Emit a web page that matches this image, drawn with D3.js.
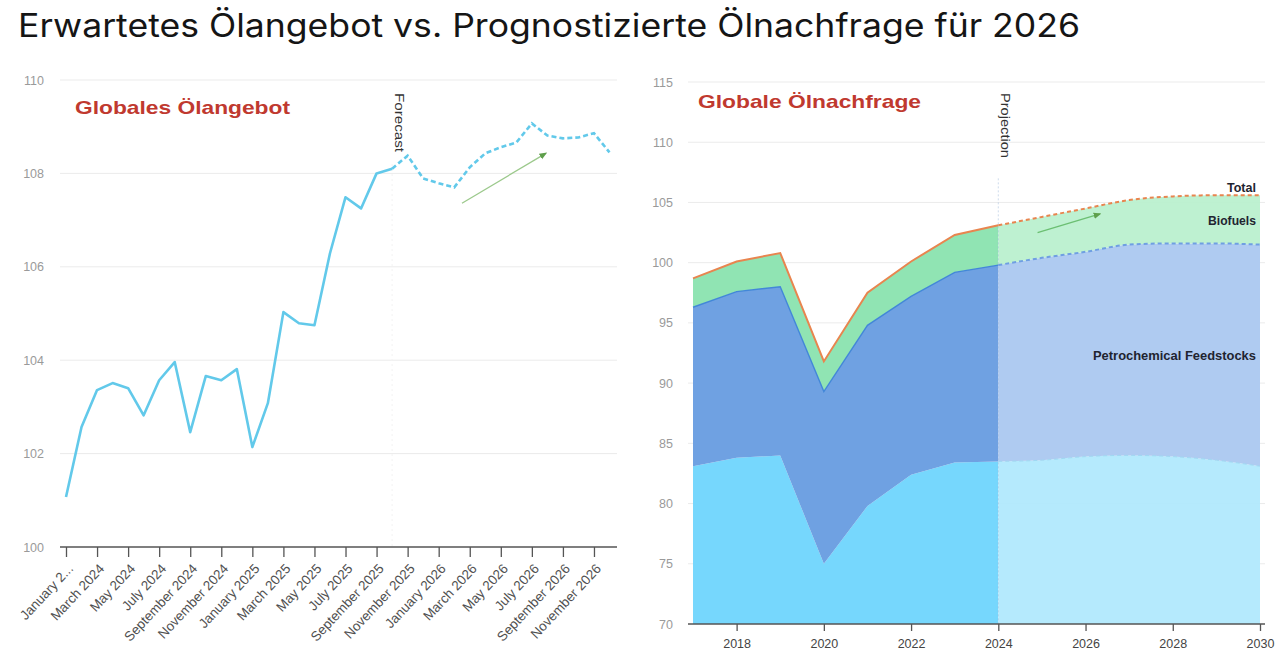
<!DOCTYPE html>
<html>
<head>
<meta charset="utf-8">
<script src="https://cdn.jsdelivr.net/npm/d3@7"></script>
<style>
body { margin: 0; background: #fff; }
svg { display: block; }
text { font-family: "Liberation Sans", Arial, sans-serif; }
</style>
</head>
<body>
<svg id="chart" width="1280" height="661"></svg>
<script>
// ---- left panel: global oil supply, monthly (mb/d) ----
var months = [
    "January 2...", "February 2024", "March 2024", "April 2024", "May 2024", "June 2024",
    "July 2024", "August 2024", "September 2024", "October 2024", "November 2024", "December 2024",
    "January 2025", "February 2025", "March 2025", "April 2025", "May 2025", "June 2025",
    "July 2025", "August 2025", "September 2025", "October 2025", "November 2025", "December 2025",
    "January 2026", "February 2026", "March 2026", "April 2026", "May 2026", "June 2026",
    "July 2026", "August 2026", "September 2026", "October 2026", "November 2026", "December 2026"
];
var supply = [
    101.07, 102.57, 103.36, 103.51, 103.40, 102.82, 103.57, 103.96, 102.46, 103.66, 103.57, 103.81,
    102.14, 103.08, 105.03, 104.79, 104.75, 106.29, 107.49, 107.25, 108.00, 108.10, 108.38, 107.89,
    107.79, 107.70, 108.13, 108.43, 108.56, 108.66, 109.07, 108.81, 108.75, 108.77, 108.86, 108.45
];
var forecastFrom = 21;            // October 2025, line turns dashed
var supplyTicks = [100, 102, 104, 106, 108, 110];

// ---- right panel: global oil demand by use, yearly (mb/d) ----
var years = [2017, 2018, 2019, 2020, 2021, 2022, 2023, 2024, 2025, 2026, 2027, 2028, 2029, 2030];
var otherUses = [83.1, 83.8, 84.0, 75.0, 79.8, 82.4, 83.4, 83.5, 83.6, 83.9, 84.0, 83.9, 83.6, 83.1];
var petrochem = [13.2, 13.8, 14.0, 14.3, 15.0, 14.8, 15.8, 16.3, 16.8, 17.0, 17.5, 17.7, 18.0, 18.4];
var biofuels = [2.4, 2.5, 2.8, 2.5, 2.7, 2.9, 3.1, 3.3, 3.4, 3.6, 3.7, 3.9, 4.0, 4.1];
var projectionFrom = 2024;
var demandTicks = [70, 75, 80, 85, 90, 95, 100, 105, 110, 115];
var yearTicks = [2018, 2020, 2022, 2024, 2026, 2028, 2030];

// ============================================================================

var svg = d3.select("#chart");

function fit(sel, len) {
    sel.attr("textLength", len).attr("lengthAdjust", "spacingAndGlyphs");
}

var defs = svg.append("defs");
defs.append("marker")
    .attr("id", "arrowhead")
    .attr("viewBox", "0 0 10 10")
    .attr("refX", 8).attr("refY", 5)
    .attr("markerWidth", 6).attr("markerHeight", 6)
    .attr("orient", "auto")
    .append("path")
    .attr("d", "M0,1 L10,5 L0,9 Z")
    .attr("fill", "#5f9f4c");

svg.append("text")
    .attr("x", 18).attr("y", 37)
    .style("font-family", "Inter, Lato, sans-serif")
    .style("font-size", "32px")
    .attr("fill", "#151515")
    .text("Erwartetes Ölangebot vs. Prognostizierte Ölnachfrage für 2026")
    .call(fit, 1062);

// ---------------------------------------------------------------------------
// left chart

var xL = d3.scaleLinear().domain([0, months.length - 1]).range([66, 609.5]);
var yL = d3.scaleLinear().domain([100, 110]).range([547, 80]);
var left = svg.append("g");

left.selectAll("line.grid")
    .data(supplyTicks.slice(1))
    .enter().append("line")
    .attr("class", "grid")
    .attr("x1", 60).attr("x2", 617)
    .attr("y1", (d) => yL(d)).attr("y2", (d) => yL(d))
    .attr("stroke", "#ebebeb");

left.append("line")
    .attr("x1", xL(forecastFrom)).attr("x2", xL(forecastFrom))
    .attr("y1", yL(108.2)).attr("y2", yL(100))
    .attr("stroke", "#f2f2f2").attr("stroke-dasharray", "2,3");

var yAxisL = left.append("g")
    .attr("transform", "translate(50,0)")
    .call(d3.axisLeft(yL).tickValues(supplyTicks).tickSize(0).tickPadding(6));
yAxisL.select(".domain").remove();
yAxisL.selectAll("text").attr("fill", "#9a9a9a").style("font-size", "12.5px");

var xAxisL = left.append("g")
    .attr("transform", "translate(0," + yL(100) + ")")
    .call(d3.axisBottom(xL)
        .tickValues(d3.range(0, months.length, 2))
        .tickFormat((i) => months[i])
        .tickSize(10));
xAxisL.select(".domain").remove();
xAxisL.selectAll(".tick line").attr("stroke", "#555").attr("stroke-width", 1.3);
xAxisL.selectAll("text")
    .attr("x", 0).attr("y", 0).attr("dy", "0.35em")
    .attr("text-anchor", "end")
    .attr("transform", "translate(4,19) rotate(-47)")
    .attr("fill", "#505050")
    .style("font-size", "13.5px");
left.append("line")
    .attr("x1", 60).attr("x2", 617)
    .attr("y1", yL(100)).attr("y2", yL(100))
    .attr("stroke", "#555").attr("stroke-width", 1.5);

var lineL = d3.line().x((d) => xL(d.i)).y((d) => yL(d.v));
var pts = supply.map((v, i) => ({ i: i, v: v }));
left.append("path")
    .datum(pts.slice(0, forecastFrom + 1))
    .attr("d", lineL)
    .attr("fill", "none").attr("stroke", "#62c9ea").attr("stroke-width", 2.6)
    .attr("stroke-linejoin", "round");
left.append("path")
    .datum(pts.slice(forecastFrom))
    .attr("d", lineL)
    .attr("fill", "none").attr("stroke", "#62c9ea").attr("stroke-width", 2.6)
    .attr("stroke-dasharray", "5,3");

left.append("line")
    .attr("x1", xL(25.5)).attr("y1", yL(107.36))
    .attr("x2", xL(30.9)).attr("y2", yL(108.43))
    .attr("stroke", "#9cc98c").attr("stroke-width", 1.3)
    .attr("marker-end", "url(#arrowhead)");

left.append("text")
    .attr("transform", "translate(" + (xL(forecastFrom) + 3) + ",93) rotate(90)")
    .attr("fill", "#333").style("font-size", "12px")
    .text("Forecast").call(fit, 59);

left.append("text")
    .attr("x", 75).attr("y", 114)
    .attr("fill", "#c0392f").style("font-size", "19px").style("font-weight", "bold")
    .text("Globales Ölangebot").call(fit, 215);

// ---------------------------------------------------------------------------
// right chart

var xR = d3.scaleLinear().domain([2017, 2030]).range([693, 1260]);
var yR = d3.scaleLinear().domain([70, 115]).range([624, 82]);
var right = svg.append("g");

right.selectAll("line.grid")
    .data(demandTicks.slice(1))
    .enter().append("line")
    .attr("class", "grid")
    .attr("x1", 688).attr("x2", 1265)
    .attr("y1", (d) => yR(d)).attr("y2", (d) => yR(d))
    .attr("stroke", "#ebebeb");

var table = years.map((y, i) => ({
    year: y, other: otherUses[i], petro: petrochem[i], bio: biofuels[i]
}));
var layers = d3.stack().keys(["other", "petro", "bio"])(table);

var histCol = { other: "#76d7fd", petro: "#6fa1e2", bio: "#90e4b3" };
var projCol = { other: "#b1e9fd", petro: "#abc8f0", bio: "#bbf0cf" };

function part(layer, hist) {
    return layer.filter((d) => hist ? d.data.year <= projectionFrom : d.data.year >= projectionFrom);
}

var areaH = d3.area()
    .x((d) => xR(d.data.year))
    .y0((d) => yR(Math.max(d[0], 70)))
    .y1((d) => yR(d[1]));
var areaP = d3.area()
    .curve(d3.curveMonotoneX)
    .x((d) => xR(d.data.year))
    .y0((d) => yR(Math.max(d[0], 70)))
    .y1((d) => yR(d[1]));
var topH = d3.line().x((d) => xR(d.data.year)).y((d) => yR(d[1]));
var topP = d3.line().curve(d3.curveMonotoneX).x((d) => xR(d.data.year)).y((d) => yR(d[1]));

layers.forEach(function (layer) {
    right.append("path")
        .datum(part(layer, true))
        .attr("d", areaH)
        .attr("fill", histCol[layer.key]);
    right.append("path")
        .datum(part(layer, false))
        .attr("d", areaP)
        .attr("fill", projCol[layer.key]).attr("fill-opacity", 0.95);
});

var edge = { other: "#8fd6f6", petro: "#4287d8", bio: "#e8854f" };
var edgeP = { other: "#9fd8f2", petro: "#6f9fe2", bio: "#e8854f" };
layers.forEach(function (layer) {
    if (layer.key != "other") {
        right.append("path")
            .datum(part(layer, true))
            .attr("d", topH)
            .attr("fill", "none").attr("stroke", edge[layer.key])
            .attr("stroke-width", layer.key == "bio" ? 2 : 1.4);
    }
    right.append("path")
        .datum(part(layer, false))
        .attr("d", topP)
        .attr("fill", "none").attr("stroke", edgeP[layer.key])
        .attr("stroke-width", layer.key == "other" ? 1 : 2)
        .attr("stroke-dasharray", "4,3");
});

right.append("line")
    .attr("x1", xR(projectionFrom)).attr("x2", xR(projectionFrom))
    .attr("y1", yR(107)).attr("y2", yR(70))
    .attr("stroke", "#94b2d8").attr("stroke-opacity", 0.45)
    .attr("stroke-dasharray", "2,2");

var yAxisR = right.append("g")
    .attr("transform", "translate(680,0)")
    .call(d3.axisLeft(yR).tickValues(demandTicks).tickSize(0).tickPadding(7));
yAxisR.select(".domain").remove();
yAxisR.selectAll("text").attr("fill", "#9a9a9a").style("font-size", "12.5px");

var xAxisR = right.append("g")
    .attr("transform", "translate(0," + yR(70) + ")")
    .call(d3.axisBottom(xR).tickValues(yearTicks).tickFormat(d3.format("d")).tickSize(7).tickPadding(8));
xAxisR.select(".domain").remove();
xAxisR.selectAll(".tick line").attr("stroke", "#555").attr("stroke-width", 1.3);
xAxisR.selectAll("text").attr("fill", "#444").style("font-size", "12.5px");
right.append("line")
    .attr("x1", 688).attr("x2", 1265)
    .attr("y1", yR(70)).attr("y2", yR(70))
    .attr("stroke", "#555").attr("stroke-width", 1.5);

right.append("line")
    .attr("x1", xR(2024.9)).attr("y1", yR(102.5))
    .attr("x2", xR(2026.33)).attr("y2", yR(104.05))
    .attr("stroke", "#6bbf72").attr("stroke-width", 1.3)
    .attr("marker-end", "url(#arrowhead)");

var n = years.length - 1;
var totalLast = otherUses[n] + petrochem[n] + biofuels[n];
var petroLast = otherUses[n] + petrochem[n];
var labels = [
    { t: "Total", v: totalLast, dy: -3, w: 29 },
    { t: "Biofuels", v: (totalLast + petroLast) / 2, dy: 5, w: 48 },
    { t: "Petrochemical Feedstocks", v: (petroLast + otherUses[n]) / 2, dy: 5, w: 163 }
];
right.selectAll("text.lab")
    .data(labels)
    .enter().append("text")
    .attr("class", "lab")
    .attr("x", xR(2030) - 4)
    .attr("y", (d) => yR(d.v) + d.dy)
    .attr("text-anchor", "end")
    .attr("fill", "#1f2430").style("font-size", "13px").style("font-weight", "bold")
    .text((d) => d.t)
    .each(function (d) { fit(d3.select(this), d.w); });

right.append("text")
    .attr("transform", "translate(" + (xR(projectionFrom) + 3) + ",93) rotate(90)")
    .attr("fill", "#333").style("font-size", "12px")
    .text("Projection").call(fit, 65);

right.append("text")
    .attr("x", 698).attr("y", 108)
    .attr("fill", "#c0392f").style("font-size", "19px").style("font-weight", "bold")
    .text("Globale Ölnachfrage").call(fit, 223);
</script>
</body>
</html>
